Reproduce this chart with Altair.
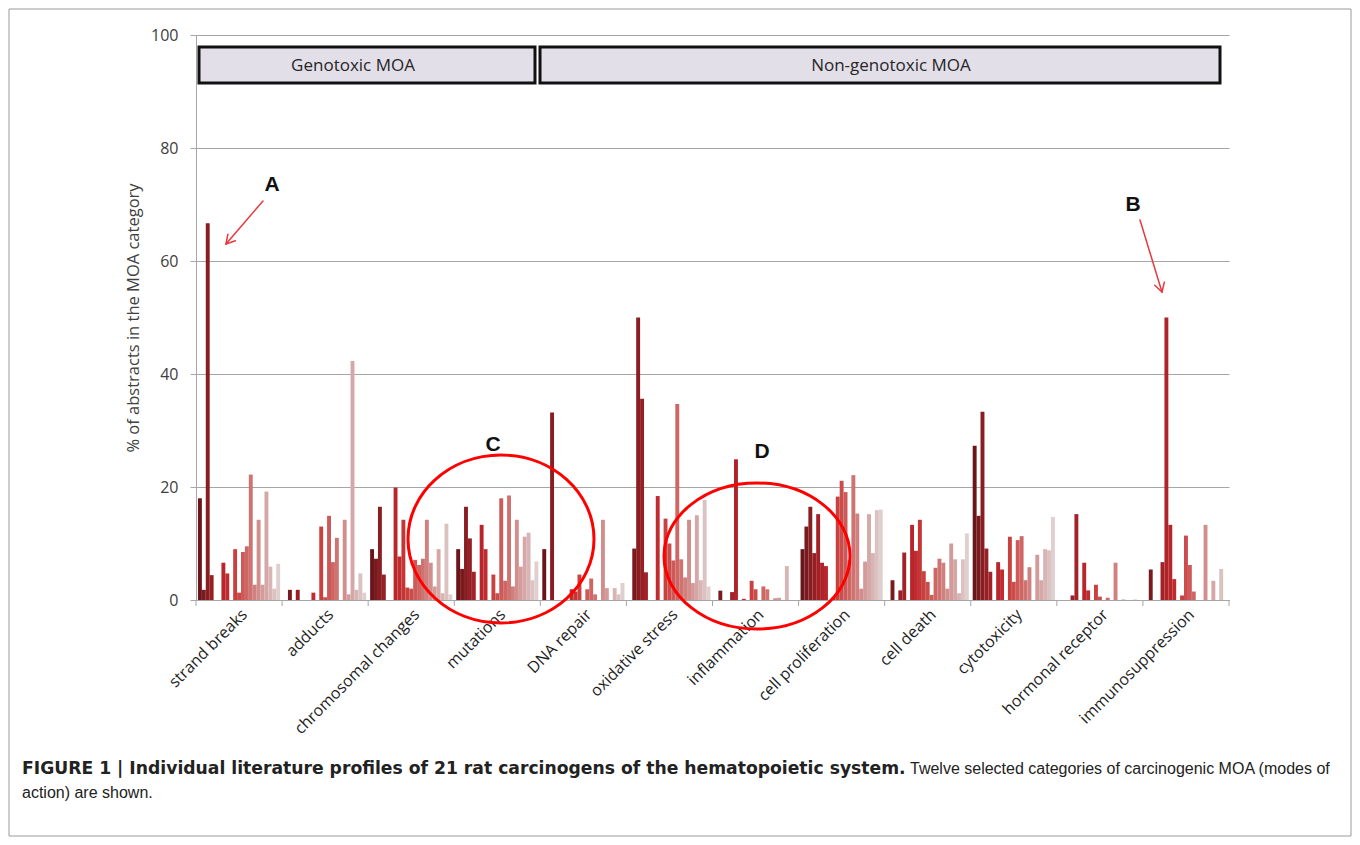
import altair as alt
import pandas as pd

# ---------------- data ----------------
categories = ["strand breaks", "adducts", "chromosomal changes", "mutations", "DNA repair",
              "oxidative stress", "inflammation", "cell proliferation", "cell death",
              "cytotoxicity", "hormonal receptor", "immunosuppression"]
carcinogens = [f"carcinogen {i:02d}" for i in range(1, 22)]

strand_breaks = [18.0, 1.8, 66.7, 4.4, 0, 0, 6.6, 4.7, 0, 9.0, 1.3, 8.5, 9.5, 22.2, 2.7, 14.2, 2.7, 19.2, 5.9, 2.0, 6.4]
adducts = [0, 1.8, 0, 1.8, 0, 0, 0, 1.3, 0, 13.0, 0.5, 14.9, 6.7, 11.0, 0, 14.2, 1.0, 42.3, 1.8, 4.7, 1.3]
chromosomal = [9.0, 7.3, 16.5, 4.5, 0, 0, 19.9, 7.7, 14.2, 2.2, 2.0, 7.1, 6.2, 7.3, 14.2, 6.6, 2.4, 9.0, 1.2, 13.5, 1.0]
mutations = [9.0, 5.5, 16.5, 10.9, 5.0, 0, 13.3, 9.0, 0, 4.5, 1.2, 18.0, 3.4, 18.5, 2.4, 14.2, 5.9, 11.2, 11.9, 3.5, 6.8]
dna_repair = [9.0, 0, 33.2, 0, 0, 0, 0, 1.9, 1.5, 4.5, 0, 1.9, 3.8, 1.0, 0, 14.2, 2.1, 0, 2.1, 1.0, 3.0]
oxidative = [0, 9.1, 50.0, 35.6, 4.9, 0, 0, 18.4, 0, 14.4, 10.0, 7.0, 34.7, 7.2, 4.0, 14.2, 3.0, 15.0, 3.5, 17.7, 2.4]
inflammation = [0, 1.65, 0, 0, 1.4, 24.9, 0, 0.2, 0, 3.4, 1.9, 0, 2.4, 1.9, 0, 0.3, 0.4, 0, 6.0, 0, 0]
cell_prolif = [9.0, 13.0, 16.5, 8.3, 15.2, 6.6, 6.0, 0, 0.5, 18.3, 21.1, 19.1, 7.0, 22.1, 15.3, 2.0, 6.8, 15.2, 8.3, 15.9, 16.0]
cell_death = [0, 3.5, 0, 1.7, 8.4, 0, 13.3, 8.7, 14.2, 5.1, 3.2, 0.9, 5.7, 7.3, 6.6, 2.0, 10.0, 7.2, 1.2, 7.2, 11.8]
cytotoxicity = [27.3, 14.9, 33.3, 9.1, 5.0, 0, 6.7, 5.4, 0, 11.2, 3.2, 10.6, 11.3, 3.5, 5.8, 0, 8.0, 3.5, 9.0, 8.8, 14.7]
hormonal = [0, 0, 0, 0.8, 15.2, 0, 6.6, 1.7, 0, 2.7, 0.6, 0, 0.4, 0, 6.6, 0, 0.1, 0, 0, 0.1, 0]
immuno = [0, 5.4, 0, 0, 6.7, 50.0, 13.3, 3.7, 0, 0.8, 11.4, 6.2, 1.5, 0, 0, 13.3, 0, 3.4, 0, 5.5, 0]

values_by_category = [strand_breaks, adducts, chromosomal, mutations, dna_repair, oxidative,
                      inflammation, cell_prolif, cell_death, cytotoxicity, hormonal, immuno]

rows = []
for cat, vals in zip(categories, values_by_category):
    for c, v in zip(carcinogens, vals):
        rows.append({"category": cat, "carcinogen": c, "value": v})
df = pd.DataFrame(rows)

colors = ["#6a1519", "#781a1e", "#881d22", "#952026", "#a32228", "#ae2429", "#b8262b",
          "#c02b2f", "#c53536", "#c9413f", "#cb4d4b", "#cd5a58", "#ce6664", "#cf7371",
          "#d0807e", "#d18e8c", "#d39b9a", "#d5a8a7", "#d8b5b4", "#dbc2c1", "#dfcfce"]

# ---------------- layout ----------------
W, H = 1033, 565
OX, OY = 196, 35          # page position of the plot origin
PAD = {"left": OX - 8, "top": OY - 8, "right": 1344 - (OX - 8) - W, "bottom": 829 - (OY - 8) - H}


def px(x):
    return x - OX


def py(y):
    return y - OY


one = pd.DataFrame({"k": [0]})
FONT = "Open Sans"

# ---------------- layers ----------------
frame = alt.Chart(one).mark_rect(fillOpacity=0, stroke="#9a9a9a", strokeWidth=1).encode(
    x=alt.value(px(9)), x2=alt.value(px(1351)), y=alt.value(py(9)), y2=alt.value(py(836)))

bars = alt.Chart(df).mark_bar().encode(
    x=alt.X("category:N", sort=categories,
            scale=alt.Scale(paddingInner=0, paddingOuter=0),
            axis=alt.Axis(title=None, labelAngle=-45, ticks=False, grid=False,
                          domainColor="#a6a6a6", labelFont=FONT, labelFontSize=16,
                          labelColor="#1e1e1e", labelPadding=6, labelOffset=0)),
    xOffset=alt.XOffset("carcinogen:N", sort=carcinogens,
                        scale=alt.Scale(paddingInner=0, paddingOuter=0.5)),
    y=alt.Y("value:Q", scale=alt.Scale(domain=[0, 100], nice=False),
            axis=alt.Axis(values=[0, 20, 40, 60, 80, 100], grid=True, gridColor="#a6a6a6",
                          gridWidth=1, domainColor="#a6a6a6", tickColor="#a6a6a6", tickSize=6,
                          labelFont=FONT, labelFontSize=16, labelColor="#404040", labelPadding=12,
                          title="% of abstracts in the MOA category", titleFont=FONT,
                          titleFontSize=16.5, titleFontWeight="normal", titleColor="#404040",
                          titleX=-63, titleY=H / 2, titleAngle=-90, titleAlign="center",
                          titleBaseline="middle")),
    color=alt.Color("carcinogen:N", sort=carcinogens,
                    scale=alt.Scale(domain=carcinogens, range=colors), legend=None),
)

tick_df = pd.DataFrame({"category": categories})
ticks = alt.Chart(tick_df).mark_rule(color="#a6a6a6", strokeWidth=1).encode(
    x=alt.X("category:N", sort=categories, bandPosition=0),
    y=alt.value(H), y2=alt.value(H + 6))
end_tick = alt.Chart(pd.DataFrame({"category": [categories[-1]]})).mark_rule(
    color="#a6a6a6", strokeWidth=1).encode(
    x=alt.X("category:N", sort=categories, bandPosition=1),
    y=alt.value(H), y2=alt.value(H + 6))


def box(x1, x2, y1, y2):
    return alt.Chart(one).mark_rect(fill="#e3dfe9", stroke="#111111", strokeWidth=3).encode(
        x=alt.value(px(x1)), x2=alt.value(px(x2)), y=alt.value(py(y1)), y2=alt.value(py(y2)))


def label(text, x, y, size, weight="normal", font=FONT, color="#262626", align="center",
          baseline="middle"):
    return alt.Chart(one).mark_text(text=text, font=font, fontSize=size, fontWeight=weight,
                                    color=color, align=align, baseline=baseline).encode(
        x=alt.value(px(x)), y=alt.value(py(y)))


def seg(x1, y1, x2, y2, color="#e8383d", width=1.5):
    return alt.Chart(one).mark_rule(color=color, strokeWidth=width, strokeCap="round").encode(
        x=alt.value(px(x1)), y=alt.value(py(y1)), x2=alt.value(px(x2)), y2=alt.value(py(y2)))


def ellipse_path(ratio):
    k = 0.5523
    r = ratio
    return (f"M-1,0 C-1,{-k*r:.4f} {-k:.4f},{-r:.4f} 0,{-r:.4f} "
            f"C{k:.4f},{-r:.4f} 1,{-k*r:.4f} 1,0 "
            f"C1,{k*r:.4f} {k:.4f},{r:.4f} 0,{r:.4f} "
            f"C{-k:.4f},{r:.4f} -1,{k*r:.4f} -1,0 Z")


def ellipse(cx, cy, rx, ry):
    return alt.Chart(one).mark_point(shape=ellipse_path(ry / rx), size=(2 * rx) ** 2,
                                     filled=False, color="#ff0000", strokeWidth=3,
                                     opacity=1).encode(
        x=alt.value(px(cx)), y=alt.value(py(cy)))


layers = [
    frame,
    bars,
    ticks,
    end_tick,
    box(199, 535, 47, 83),
    box(540, 1220, 47, 83),
    label("Genotoxic MOA", 353, 66, 17),
    label("Non-genotoxic MOA", 891, 66, 17),
    ellipse(501, 539, 93, 84),
    ellipse(757, 556, 93, 73),
    # arrow A
    seg(263, 201, 226, 244), seg(226, 244, 235.4, 240.7), seg(226, 244, 227.9, 234.2),
    # arrow B
    seg(1140, 220, 1162, 292), seg(1162, 292, 1164.3, 282.3), seg(1162, 292, 1154.7, 285.2),
    label("A", 272, 185, 21, "bold", "Liberation Sans", "#111111"),
    label("B", 1133, 205, 21, "bold", "Liberation Sans", "#111111"),
    label("C", 493, 445, 21, "bold", "Liberation Sans", "#111111"),
    label("D", 762, 452, 21, "bold", "Liberation Sans", "#111111"),
    label("FIGURE 1 | Individual literature profiles of 21 rat carcinogens of the hematopoietic system.",
          22, 774, 17.2, "bold", "DejaVu Sans", "#222222", "left", "alphabetic"),
    label("Twelve selected categories of carcinogenic MOA (modes of",
          910, 774, 16, "normal", "Liberation Sans", "#222222", "left", "alphabetic"),
    label("action) are shown.", 22, 798, 16, "normal", "Liberation Sans", "#222222",
          "left", "alphabetic"),
]

chart = alt.layer(*layers).properties(
    width=W, height=H, padding=PAD,
    autosize=alt.AutoSizeParams(type="none"),
    background="white",
).configure_view(stroke=None)

chart.save("out.html", embed_options={"renderer": "svg", "actions": False})
